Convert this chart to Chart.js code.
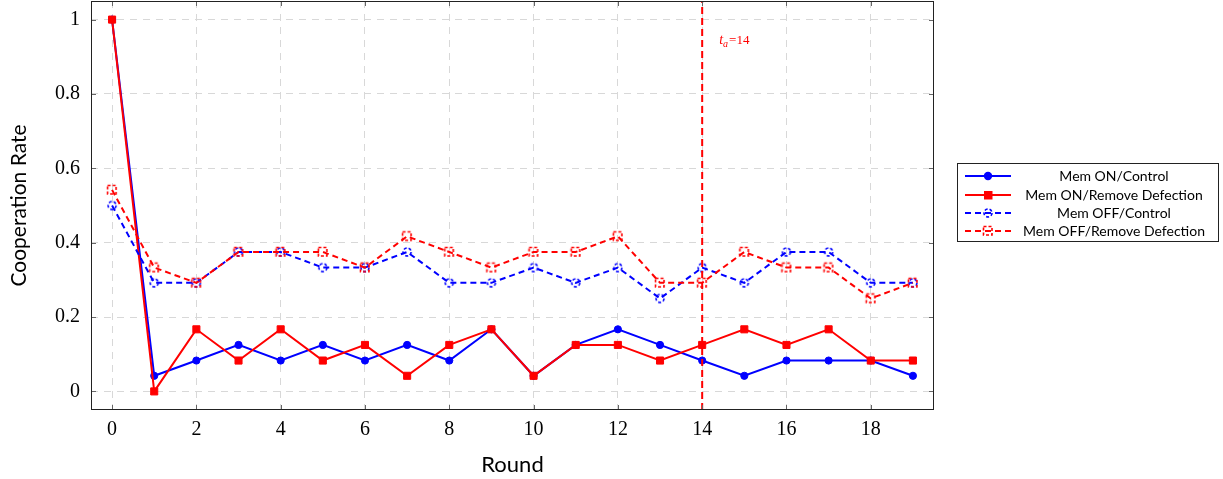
<!DOCTYPE html>
<html>
<head>
<meta charset="utf-8">
<script src="https://cdn.jsdelivr.net/npm/chart.js@4.4.1/dist/chart.umd.min.js"></script>
<style>
  html, body { margin: 0; padding: 0; background: #fff; }
  #wrap { width: 1223px; height: 479px; }
</style>
</head>
<body>
<div id="wrap"><canvas id="coopChart" width="1223" height="479"></canvas></div>
<script>
const rounds = [0, 1, 2, 3, 4, 5, 6, 7, 8, 9, 10, 11, 12, 13, 14, 15, 16, 17, 18, 19];
const memOnControl = [1, 0.042, 0.083, 0.125, 0.083, 0.125, 0.083, 0.125, 0.083, 0.167, 0.042, 0.125, 0.167, 0.125, 0.083, 0.042, 0.083, 0.083, 0.083, 0.042];
const memOnRemove = [1, 0, 0.167, 0.083, 0.167, 0.083, 0.125, 0.042, 0.125, 0.167, 0.042, 0.125, 0.125, 0.083, 0.125, 0.167, 0.125, 0.167, 0.083, 0.083];
const memOffControl = [0.5, 0.292, 0.292, 0.375, 0.375, 0.333, 0.333, 0.375, 0.292, 0.292, 0.333, 0.292, 0.333, 0.25, 0.333, 0.292, 0.375, 0.375, 0.292, 0.292];
const memOffRemove = [0.542, 0.333, 0.292, 0.375, 0.375, 0.375, 0.333, 0.417, 0.375, 0.333, 0.375, 0.375, 0.417, 0.292, 0.292, 0.375, 0.333, 0.333, 0.25, 0.292];
const seriesLabels = ['Mem ON/Control', 'Mem ON/Remove Defection', 'Mem OFF/Control', 'Mem OFF/Remove Defection'];
const xTicks = [0, 2, 4, 6, 8, 10, 12, 14, 16, 18];
const yTicks = [0, 0.2, 0.4, 0.6, 0.8, 1];
const attackRound = 14;

const BLUE = '#0000ff';
const RED = '#ff0000';

// dashed outline markers like the pgfplots "dashed" marks
function dashedMark(color, shape) {
  const c = document.createElement('canvas');
  c.width = 14; c.height = 14;
  const g = c.getContext('2d');
  g.strokeStyle = color;
  g.lineWidth = 1.6;
  g.setLineDash([3, 2]);
  g.beginPath();
  if (shape === 'circle') g.arc(7, 7, 4, 0, Math.PI * 2);
  else g.rect(2.5, 2.5, 8.5, 8.5);
  g.stroke();
  return c;
}
const blueDashMark = dashedMark(BLUE, 'circle');
const redDashMark = dashedMark(RED, 'rect');

const toPoints = vals => vals.map((v, i) => ({ x: rounds[i], y: v }));

const datasets = [
  { label: seriesLabels[0], data: toPoints(memOnControl), borderColor: BLUE, backgroundColor: BLUE,
    borderWidth: 2, pointStyle: 'circle', pointRadius: 3.6, pointBorderWidth: 1, order: 4 },
  { label: seriesLabels[1], data: toPoints(memOnRemove), borderColor: RED, backgroundColor: RED,
    borderWidth: 2, pointStyle: 'rect', pointRadius: 5, pointBorderWidth: 1, order: 3 },
  { label: seriesLabels[2], data: toPoints(memOffControl), borderColor: BLUE, backgroundColor: BLUE,
    borderWidth: 2, borderDash: [6, 4], pointStyle: blueDashMark, pointRadius: 5, order: 2, dashedMark: blueDashMark },
  { label: seriesLabels[3], data: toPoints(memOffRemove), borderColor: RED, backgroundColor: RED,
    borderWidth: 2, borderDash: [6, 4], pointStyle: redDashMark, pointRadius: 5, order: 1, dashedMark: redDashMark },
  { label: 'attack', data: [{ x: attackRound, y: -0.05 }, { x: attackRound, y: 1.05 }], borderColor: RED,
    borderWidth: 2, borderDash: [7, 4], pointRadius: 0, order: 0, isMarker: true }
];

const frame = {
  id: 'frame',
  afterDatasetsDraw(chart) {
    const ctx = chart.ctx;
    const a = chart.chartArea;
    const xs = chart.scales.x, ys = chart.scales.y;
    ctx.save();
    // tick marks on all four sides, inward
    ctx.strokeStyle = '#666';
    ctx.lineWidth = 1;
    ctx.beginPath();
    xTicks.forEach(v => {
      const px = Math.round(xs.getPixelForValue(v)) + 0.5;
      ctx.moveTo(px, a.bottom); ctx.lineTo(px, a.bottom - 5);
      ctx.moveTo(px, a.top); ctx.lineTo(px, a.top + 5);
    });
    yTicks.forEach(v => {
      const py = Math.round(ys.getPixelForValue(v)) + 0.5;
      ctx.moveTo(a.left, py); ctx.lineTo(a.left + 5, py);
      ctx.moveTo(a.right, py); ctx.lineTo(a.right - 5, py);
    });
    ctx.stroke();
    ctx.strokeStyle = '#222';
    ctx.strokeRect(Math.round(a.left) + 0.5, Math.round(a.top) + 0.5, Math.round(a.right - a.left) - 1, Math.round(a.bottom - a.top) - 1);

    // t_a label
    const tx = xs.getPixelForValue(attackRound) + 17;
    const ty = a.top + 43;
    ctx.fillStyle = RED;
    ctx.textBaseline = 'alphabetic';
    ctx.font = 'italic 14px "Liberation Serif"';
    ctx.fillText('t', tx, ty);
    let w = ctx.measureText('t').width;
    ctx.font = 'italic 10px "Liberation Serif"';
    ctx.fillText('a', tx + w, ty + 3);
    w += ctx.measureText('a').width;
    ctx.font = '13px "Liberation Serif"';
    ctx.fillText('=14', tx + w + 1, ty);
    ctx.restore();
  },
  afterDraw(chart) {
    // legend box on the right
    const ctx = chart.ctx;
    const box = { x: 957.5, y: 163.5, w: 261, h: 78 };
    const rowY = [176, 195, 213, 231];
    ctx.save();
    ctx.fillStyle = '#fff';
    ctx.fillRect(box.x, box.y, box.w, box.h);
    ctx.strokeStyle = '#222';
    ctx.lineWidth = 1;
    ctx.strokeRect(box.x, box.y, box.w, box.h);
    chart.data.datasets.filter(d => !d.isMarker).forEach((ds, i) => {
      const y = rowY[i];
      ctx.strokeStyle = ds.borderColor;
      ctx.lineWidth = 2;
      ctx.setLineDash(ds.borderDash || []);
      ctx.beginPath();
      ctx.moveTo(965, y); ctx.lineTo(1011, y);
      ctx.stroke();
      ctx.setLineDash([]);
      if (ds.dashedMark) {
        ctx.drawImage(ds.dashedMark, 988 - 7, y - 7);
      } else {
        ctx.fillStyle = ds.backgroundColor;
        ctx.beginPath();
        if (ds.pointStyle === 'circle') ctx.arc(988, y, 4.2, 0, Math.PI * 2);
        else ctx.rect(984, y - 4, 8.5, 8.5);
        ctx.fill();
      }
      ctx.fillStyle = '#000';
      ctx.font = '14px Lato';
      ctx.textAlign = 'center';
      ctx.textBaseline = 'middle';
      ctx.fillText(ds.label, 1114, y);
    });
    ctx.restore();
  }
};

const config = {
  type: 'line',
  data: { datasets: datasets },
  options: {
    responsive: false,
    animation: false,
    layout: { autoPadding: false, padding: { left: 0, right: 289, top: 1, bottom: 0 } },
    plugins: {
      legend: { display: false },
      tooltip: { enabled: false }
    },
    scales: {
      x: {
        type: 'linear',
        min: -0.5,
        max: 19.5,
        afterBuildTicks: scale => { scale.ticks = xTicks.map(v => ({ value: v })); },
        afterFit: scale => { scale.height = 69; scale.paddingLeft = 0; scale.paddingRight = 0; },
        grid: { color: '#d8d8d8', lineWidth: 1, drawTicks: false },
        border: { display: false, dash: [7, 6] },
        ticks: { color: '#000', padding: 8, font: { family: '"Liberation Serif"', size: 20 } },
        title: { display: true, text: 'Round', color: '#000', padding: { top: 0, bottom: 1 },
          font: { family: 'Lato', size: 22 } }
      },
      y: {
        type: 'linear',
        min: -0.05,
        max: 1.05,
        afterBuildTicks: scale => { scale.ticks = yTicks.map(v => ({ value: v })); },
        afterFit: scale => { scale.width = 91; scale.paddingTop = 0; scale.paddingBottom = 0; },
        grid: { color: '#d8d8d8', lineWidth: 1, drawTicks: false },
        border: { display: false, dash: [7, 6] },
        ticks: { color: '#000', padding: 11, font: { family: '"Liberation Serif"', size: 20 },
          callback: v => String(v) },
        title: { display: true, text: 'Cooperation Rate', color: '#000', padding: { top: 7, bottom: 0 },
          font: { family: 'Lato', size: 21 } }
      }
    }
  },
  plugins: [frame]
};

const coopChart = new Chart(document.getElementById('coopChart'), config);
</script>
</body>
</html>
